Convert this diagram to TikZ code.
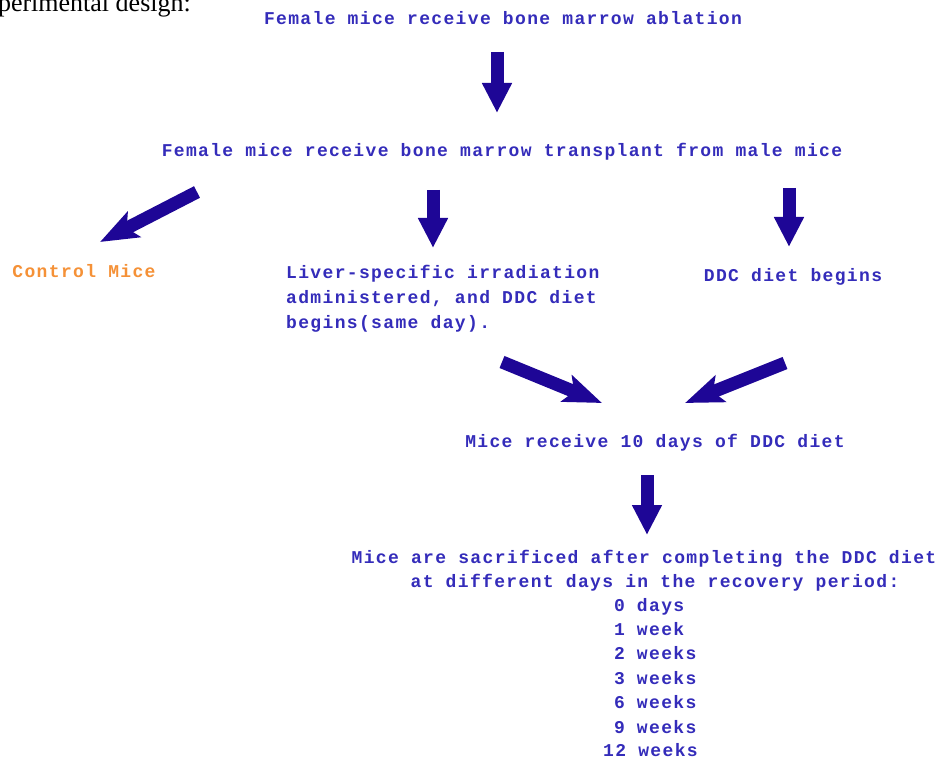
\documentclass[tikz,border=0pt]{standalone}
\usepackage{fontspec}
\usetikzlibrary{arrows.meta}
\newfontfamily\monob[LetterSpace=7.5]{Liberation Mono}
\newfontfamily\serifr{Liberation Serif}
\definecolor{txtblue}{RGB}{52,44,186}
\definecolor{arrblue}{RGB}{30,6,150}
\definecolor{ctrlorange}{RGB}{245,145,55}
\tikzset{
  lbl/.style={inner sep=0pt, text=txtblue, font=\monob\bfseries\fontsize{18}{20}\selectfont},
  vbig/.style={draw=arrblue, line width=13pt, -{Triangle[width=28pt,length=30pt]}, arrblue},
  dbig/.style={draw=arrblue, line width=13pt, -{Stealth[width=28pt,length=38pt,inset=8pt]}, arrblue}
}
\begin{document}
\begin{tikzpicture}[x=1pt,y=-1pt]
\useasboundingbox (0,0) rectangle (945,759);
\clip (0,0) rectangle (945,759);
\fill[white] (0,0) rectangle (945,759);
\node[inner sep=0pt, anchor=base east, font=\serifr\fontsize{26}{30}\selectfont] (hdr) at (191,12) {Experimental design:};

\node[lbl, anchor=base] (abl) at (503,25) {Female mice receive bone marrow ablation};
\node[lbl, anchor=base] (trn) at (502,157) {Female mice receive bone marrow transplant from male mice};
\node[lbl, anchor=base, text=ctrlorange] (ctl) at (84,278) {Control Mice};
\node[lbl, anchor=base west] (liv1) at (286,279) {Liver-specific irradiation};
\node[lbl, anchor=base west] (liv2) at (286,304) {administered, and DDC diet};
\node[lbl, anchor=base west] (liv3) at (286,329) {begins(same day).};
\node[lbl, anchor=base] (ddc) at (793,282) {DDC diet begins};
\node[lbl, anchor=base] (ten) at (655,447) {Mice receive 10 days of DDC diet};
\node[lbl, anchor=base] (sac1) at (644,563) {Mice are sacrificed after completing the DDC diet};
\node[lbl, anchor=base] (sac2) at (655,587) {at different days in the recovery period:};
\node[lbl, anchor=base west] (d0) at (603,611) {\phantom{1}0 days};
\node[lbl, anchor=base west] (d1) at (603,635) {\phantom{1}1 week};
\node[lbl, anchor=base west] (d2) at (603,659) {\phantom{1}2 weeks};
\node[lbl, anchor=base west] (d3) at (603,684) {\phantom{1}3 weeks};
\node[lbl, anchor=base west] (d6) at (603,708) {\phantom{1}6 weeks};
\node[lbl, anchor=base west] (d9) at (603,733) {\phantom{1}9 weeks};
\node[lbl, anchor=base west] (d12) at (603,756) {12 weeks};

\coordinate (a1s) at (497,52);  \coordinate (a1e) at (497,113);
\coordinate (a2s) at (197,192); \coordinate (a2e) at (100,242);
\coordinate (a3s) at (433,190); \coordinate (a3e) at (433,248);
\coordinate (a4s) at (789,188); \coordinate (a4e) at (789,247);
\coordinate (a5s) at (502,362); \coordinate (a5e) at (602,403);
\coordinate (a6s) at (785,363); \coordinate (a6e) at (685,403);
\coordinate (a7s) at (647,475); \coordinate (a7e) at (647,535);

\draw[vbig] (a1s) -- (a1e);
\draw[dbig] (a2s) -- (a2e);
\draw[vbig] (a3s) -- (a3e);
\draw[vbig] (a4s) -- (a4e);
\draw[dbig] (a5s) -- (a5e);
\draw[dbig] (a6s) -- (a6e);
\draw[vbig] (a7s) -- (a7e);
\end{tikzpicture}
\end{document}
